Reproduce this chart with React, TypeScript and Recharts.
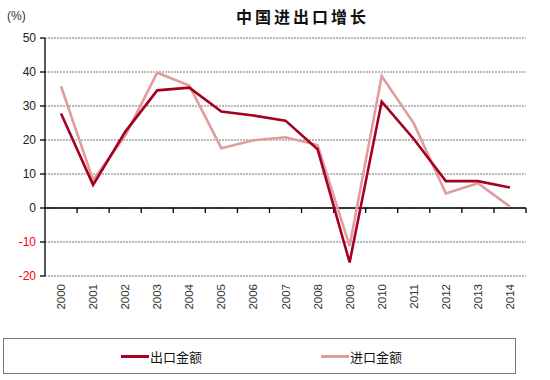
import { LineChart, Line, XAxis, YAxis, CartesianGrid, ReferenceLine } from "recharts";

// categories and series values
const years = ["2000", "2001", "2002", "2003", "2004", "2005", "2006", "2007", "2008", "2009", "2010", "2011", "2012", "2013", "2014"];
const exportGrowth = [27.8, 6.8, 22.4, 34.6, 35.4, 28.4, 27.2, 25.7, 17.3, -16.0, 31.3, 20.3, 7.9, 7.9, 6.0];
const importGrowth = [35.8, 8.2, 21.2, 39.8, 36.0, 17.6, 19.9, 20.8, 18.5, -11.2, 38.8, 24.9, 4.3, 7.3, 0.4];
const yTicks = [-20, -10, 0, 10, 20, 30, 40, 50];

const seriesNames = { exp: "出口金额", imp: "进口金额" };
const expColor = "#a50021";
const impColor = "#e29c9c";

const data = years.map((y, i) => ({ year: y, exp: exportGrowth[i], imp: importGrowth[i] }));

const font = "'Liberation Sans', Arial, sans-serif";

// y tick: negatives are printed in red
const YTick = (props: any) => {
  const { x, y, payload } = props;
  return (
    <text x={x - 2} y={y} dy={4} textAnchor="end" fontSize={12} fontFamily={font} fill={payload.value < 0 ? "#ff0000" : "#222"}>
      {payload.value}
    </text>
  );
};

// rotated year labels at the bottom
const XTick = (props: any) => {
  const { x, y, payload } = props;
  return (
    <text x={x} y={y} dy={4} textAnchor="end" fontSize={11.5} fontFamily={font} fill="#333" transform={`rotate(-90, ${x}, ${y})`}>
      {payload.value}
    </text>
  );
};

// zero line with category tick marks hanging below it
const ZeroLine = (props: any) => {
  const { x1, x2, y1 } = props;
  const step = (x2 - x1) / years.length;
  return (
    <g>
      <line x1={x1} x2={x2} y1={y1} y2={y1} stroke="#000" strokeWidth={1.3} />
      {years.map((_, i) => (
        <line key={i} x1={x1 + step * (i + 1)} x2={x1 + step * (i + 1)} y1={y1} y2={y1 + 5} stroke="#000" strokeWidth={1.3} />
      ))}
    </g>
  );
};

export default function App() {
  return (
    <div style={{ position: "fixed", left: 0, top: 0, width: 550, height: 380, background: "#fff", fontFamily: font }}>
      <div style={{ position: "absolute", left: 7, top: 9, fontSize: 12, color: "#333" }}>(%)</div>
      <div
        style={{
          position: "absolute",
          left: 236,
          top: 4,
          fontSize: 16,
          fontWeight: "bold",
          letterSpacing: 3,
          fontFamily: "'Noto Sans CJK SC', serif",
          color: "#111",
        }}
      >
        中国进出口增长
      </div>
      <LineChart width={550} height={380} data={data} margin={{ top: 38, right: 24, left: 5, bottom: 70 }}>
        <CartesianGrid vertical={false} stroke="#777" strokeDasharray="2 1" />
        <XAxis
          dataKey="year"
          scale="band"
          interval={0}
          height={34}
          axisLine={false}
          tickLine={false}
          tick={<XTick />}
          tickMargin={2}
        />
        <YAxis
          width={40}
          domain={[-20, 50]}
          ticks={yTicks}
          interval={0}
          axisLine={{ stroke: "#000", strokeWidth: 1.3 }}
          tickLine={{ stroke: "#000", strokeWidth: 1.3 }}
          tickSize={5}
          tick={<YTick />}
        />
        <ReferenceLine y={0} shape={<ZeroLine />} />
        <Line type="linear" dataKey="imp" name={seriesNames.imp} stroke={impColor} strokeWidth={2.6} dot={false} isAnimationActive={false} />
        <Line type="linear" dataKey="exp" name={seriesNames.exp} stroke={expColor} strokeWidth={2.6} dot={false} isAnimationActive={false} />
      </LineChart>
      <div
        style={{
          position: "absolute",
          left: 3,
          top: 338,
          width: 513,
          height: 36,
          border: "1px solid #777",
          boxSizing: "border-box",
          fontSize: 13,
          color: "#111",
          fontFamily: "'Noto Sans CJK SC', sans-serif",
        }}
      >
        {[
          { name: seriesNames.exp, color: expColor, left: 117 },
          { name: seriesNames.imp, color: impColor, left: 317 },
        ].map((s) => (
          <div key={s.name} style={{ position: "absolute", left: s.left, top: 8, display: "flex", alignItems: "center" }}>
            <span style={{ display: "inline-block", width: 28, height: 3, background: s.color, marginRight: 1 }} />
            <span>{s.name}</span>
          </div>
        ))}
      </div>
    </div>
  );
}
